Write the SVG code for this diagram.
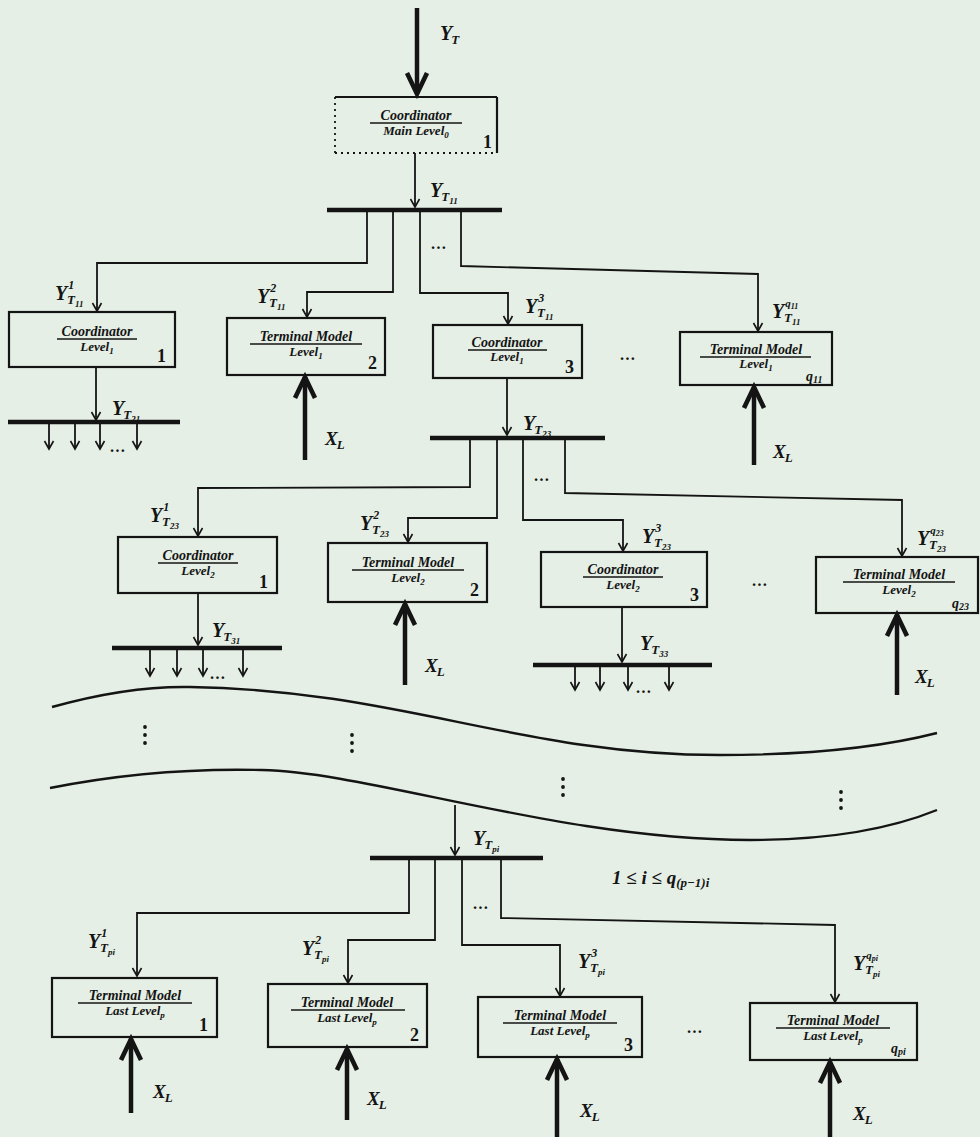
<svg xmlns="http://www.w3.org/2000/svg" width="980" height="1137" viewBox="0 0 980 1137">
<defs>
<style>
.ln{stroke:#141414;stroke-width:1.8;fill:none}
.bus{stroke:#141414;stroke-width:4.5;fill:none}
.box{fill:none;stroke:#141414;stroke-width:2.2}
.thk{stroke:#141414;stroke-width:4.5;fill:none}
.dot{stroke:#141414;stroke-width:1.8;fill:none;stroke-dasharray:2 4}
.t{font-family:"Liberation Serif","Times New Roman",serif;font-style:italic;font-weight:bold;fill:#141414}
.bt{font-size:14px;text-anchor:middle}
.bt2{font-size:13px;text-anchor:middle}
.num{font-family:"Liberation Serif",serif;font-weight:bold;font-size:18px;fill:#141414;text-anchor:end}
.fr{stroke:#141414;stroke-width:1.3}
.wave{stroke:#141414;stroke-width:2.4;fill:none}
</style>
<marker id="a" viewBox="-10 -6 12 12" refX="0" refY="0" markerWidth="12" markerHeight="12" markerUnits="userSpaceOnUse" orient="auto" overflow="visible">
<path d="M-8,-4.5 L0,0 L-8,4.5" fill="none" stroke="#141414" stroke-width="1.6"/>
</marker>
<marker id="A" viewBox="-24 -14 28 28" refX="0" refY="0" markerWidth="28" markerHeight="28" markerUnits="userSpaceOnUse" orient="auto" overflow="visible">
<path d="M-21,-10 L0,0 L-21,10" fill="none" stroke="#141414" stroke-width="4.6" stroke-linejoin="miter"/>
</marker>
</defs>
<rect width="980" height="1137" fill="#e5efe5"/>

<g id="connectors">
<line class="thk" x1="417" y1="8" x2="417" y2="94" marker-end="url(#A)"/>
<line class="ln" x1="415" y1="153" x2="415" y2="207" marker-end="url(#a)"/>
<line class="bus" x1="327" y1="210" x2="502" y2="210"/>
<polyline class="ln" points="367,212 367,263 97,263 97,311" marker-end="url(#a)"/>
<polyline class="ln" points="393,212 393,292 307,292 307,317" marker-end="url(#a)"/>
<polyline class="ln" points="420,212 420,293 508,293 508,324" marker-end="url(#a)"/>
<polyline class="ln" points="461,212 461,266 758,274 758,331" marker-end="url(#a)"/>
<line class="ln" x1="96" y1="367" x2="96" y2="420" marker-end="url(#a)"/>
<line class="bus" x1="8" y1="422" x2="180" y2="422"/>
<line class="ln" x1="49" y1="424" x2="49" y2="449" marker-end="url(#a)"/>
<line class="ln" x1="75" y1="424" x2="75" y2="449" marker-end="url(#a)"/>
<line class="ln" x1="100" y1="424" x2="100" y2="449" marker-end="url(#a)"/>
<line class="ln" x1="137" y1="424" x2="137" y2="449" marker-end="url(#a)"/>
<line class="thk" x1="305" y1="460" x2="305" y2="377" marker-end="url(#A)"/>
<line class="thk" x1="754" y1="465" x2="754" y2="387" marker-end="url(#A)"/>
<line class="ln" x1="507" y1="378" x2="507" y2="435" marker-end="url(#a)"/>
<line class="bus" x1="430" y1="438" x2="605" y2="438"/>
<polyline class="ln" points="470,440 470,487 198,488 198,536" marker-end="url(#a)"/>
<polyline class="ln" points="497,440 497,518 408,518 408,542" marker-end="url(#a)"/>
<polyline class="ln" points="523,440 523,520 623,520 623,551" marker-end="url(#a)"/>
<polyline class="ln" points="565,440 565,493 902,500 902,556" marker-end="url(#a)"/>
<line class="ln" x1="198" y1="593" x2="198" y2="645" marker-end="url(#a)"/>
<line class="bus" x1="112" y1="648" x2="282" y2="648"/>
<line class="ln" x1="150" y1="650" x2="150" y2="676" marker-end="url(#a)"/>
<line class="ln" x1="177" y1="650" x2="177" y2="676" marker-end="url(#a)"/>
<line class="ln" x1="203" y1="650" x2="203" y2="676" marker-end="url(#a)"/>
<line class="ln" x1="243" y1="650" x2="243" y2="676" marker-end="url(#a)"/>
<line class="thk" x1="405" y1="685" x2="405" y2="604" marker-end="url(#A)"/>
<line class="thk" x1="897" y1="695" x2="897" y2="615" marker-end="url(#A)"/>
<line class="ln" x1="622" y1="607" x2="622" y2="662" marker-end="url(#a)"/>
<line class="bus" x1="533" y1="665" x2="712" y2="665"/>
<line class="ln" x1="575" y1="667" x2="575" y2="690" marker-end="url(#a)"/>
<line class="ln" x1="600" y1="667" x2="600" y2="690" marker-end="url(#a)"/>
<line class="ln" x1="628" y1="667" x2="628" y2="690" marker-end="url(#a)"/>
<line class="ln" x1="669" y1="667" x2="669" y2="690" marker-end="url(#a)"/>
<line class="ln" x1="455" y1="805" x2="455" y2="855" marker-end="url(#a)"/>
<line class="bus" x1="370" y1="858" x2="543" y2="858"/>
<polyline class="ln" points="409,860 409,913 137,913 137,976" marker-end="url(#a)"/>
<polyline class="ln" points="435,860 435,940 348,940 348,983" marker-end="url(#a)"/>
<polyline class="ln" points="462,860 462,945 560,945 560,996" marker-end="url(#a)"/>
<polyline class="ln" points="501,860 501,918 835,925 835,1002" marker-end="url(#a)"/>
<line class="thk" x1="131" y1="1113" x2="131" y2="1039" marker-end="url(#A)"/>
<line class="thk" x1="347" y1="1120" x2="347" y2="1049" marker-end="url(#A)"/>
<line class="thk" x1="557" y1="1137" x2="557" y2="1059" marker-end="url(#A)"/>
<line class="thk" x1="830" y1="1137" x2="830" y2="1062" marker-end="url(#A)"/>
</g>

<g id="breaks">
<path class="wave" d="M52,707 C95,695 140,686 190,687 C400,690 520,755 720,755 C820,755 890,745 937,733"/>
<path class="wave" d="M50,788 C110,776 180,768 262,770 C370,772 560,840 750,840 C840,840 900,825 937,810"/>
<g fill="#141414">
<circle cx="145" cy="727" r="1.9"/><circle cx="145" cy="735" r="1.9"/><circle cx="145" cy="743" r="1.9"/>
<circle cx="352" cy="735" r="1.9"/><circle cx="352" cy="743" r="1.9"/><circle cx="352" cy="751" r="1.9"/>
<circle cx="563" cy="779" r="1.9"/><circle cx="563" cy="787" r="1.9"/><circle cx="563" cy="795" r="1.9"/>
<circle cx="841" cy="792" r="1.9"/><circle cx="841" cy="800" r="1.9"/><circle cx="841" cy="808" r="1.9"/>
</g>
</g>

<g id="ellipses" class="t" font-size="16">
<text x="431" y="249">…</text>
<text x="110" y="452">…</text>
<text x="620" y="360">…</text>
<text x="534" y="481">…</text>
<text x="210" y="679">…</text>
<text x="752" y="586">…</text>
<text x="636" y="693">…</text>
<text x="473" y="909">…</text>
<text x="687" y="1033">…</text>
</g>

<g id="main">
<line class="box" x1="335" y1="97" x2="497" y2="97"/>
<line class="box" x1="497" y1="97" x2="497" y2="153"/>
<line class="dot" x1="335" y1="97" x2="335" y2="153"/>
<line class="dot" x1="335" y1="153" x2="497" y2="153"/>
<text class="t bt" x="416" y="120">Coordinator</text>
<line class="fr" x1="370" y1="123" x2="462" y2="123"/>
<text class="t bt2" x="416" y="135">Main Level<tspan font-size="9" dy="3">0</tspan></text>
<text class="num" x="492" y="148">1</text>
</g>

<g id="A1">
<rect class="box" x="9" y="312" width="166" height="55"/>
<text class="t bt" x="97" y="336">Coordinator</text>
<line class="fr" x1="57" y1="339" x2="137" y2="339"/>
<text class="t bt2" x="97" y="351">Level<tspan font-size="9" dy="3">1</tspan></text>
<text class="num" x="166" y="362">1</text>
</g>
<g id="A2">
<rect class="box" x="227" y="318" width="158" height="57"/>
<text class="t bt" x="306" y="341">Terminal Model</text>
<line class="fr" x1="250" y1="344" x2="362" y2="344"/>
<text class="t bt2" x="306" y="356">Level<tspan font-size="9" dy="3">1</tspan></text>
<text class="num" x="377" y="369">2</text>
</g>
<g id="A3">
<rect class="box" x="433" y="325" width="149" height="53"/>
<text class="t bt" x="507" y="347">Coordinator</text>
<line class="fr" x1="468" y1="350" x2="547" y2="350"/>
<text class="t bt2" x="507" y="361">Level<tspan font-size="9" dy="3">1</tspan></text>
<text class="num" x="574" y="373">3</text>
</g>
<g id="A4">
<rect class="box" x="680" y="332" width="152" height="53"/>
<text class="t bt" x="756" y="354">Terminal Model</text>
<line class="fr" x1="700" y1="357" x2="811" y2="357"/>
<text class="t bt2" x="756" y="368">Level<tspan font-size="9" dy="3">1</tspan></text>
<text class="t" font-size="14" x="806" y="381">q<tspan font-size="10" dy="2">11</tspan></text>
</g>

<g id="B1">
<rect class="box" x="118" y="537" width="159" height="56"/>
<text class="t bt" x="198" y="560">Coordinator</text>
<line class="fr" x1="158" y1="563" x2="238" y2="563"/>
<text class="t bt2" x="198" y="575">Level<tspan font-size="9" dy="3">2</tspan></text>
<text class="num" x="268" y="588">1</text>
</g>
<g id="B2">
<rect class="box" x="328" y="543" width="159" height="59"/>
<text class="t bt" x="408" y="567">Terminal Model</text>
<line class="fr" x1="352" y1="570" x2="464" y2="570"/>
<text class="t bt2" x="408" y="582">Level<tspan font-size="9" dy="3">2</tspan></text>
<text class="num" x="479" y="596">2</text>
</g>
<g id="B3">
<rect class="box" x="541" y="552" width="166" height="55"/>
<text class="t bt" x="623" y="574">Coordinator</text>
<line class="fr" x1="583" y1="577" x2="663" y2="577"/>
<text class="t bt2" x="623" y="589">Level<tspan font-size="9" dy="3">2</tspan></text>
<text class="num" x="699" y="601">3</text>
</g>
<g id="B4">
<rect class="box" x="816" y="557" width="162" height="56"/>
<text class="t bt" x="899" y="579">Terminal Model</text>
<line class="fr" x1="843" y1="582" x2="955" y2="582"/>
<text class="t bt2" x="899" y="594">Level<tspan font-size="9" dy="3">2</tspan></text>
<text class="t" font-size="14" x="952" y="608">q<tspan font-size="10" dy="2">23</tspan></text>
</g>

<g id="C1">
<rect class="box" x="52" y="978" width="165" height="59"/>
<text class="t bt" x="135" y="1000">Terminal Model</text>
<line class="fr" x1="78" y1="1003" x2="192" y2="1003"/>
<text class="t bt2" x="135" y="1015">Last Level<tspan font-size="9" dy="3">p</tspan></text>
<text class="num" x="208" y="1031">1</text>
</g>
<g id="C2">
<rect class="box" x="268" y="984" width="159" height="63"/>
<text class="t bt" x="347" y="1007">Terminal Model</text>
<line class="fr" x1="291" y1="1010" x2="405" y2="1010"/>
<text class="t bt2" x="347" y="1022">Last Level<tspan font-size="9" dy="3">p</tspan></text>
<text class="num" x="419" y="1041">2</text>
</g>
<g id="C3">
<rect class="box" x="478" y="997" width="164" height="60"/>
<text class="t bt" x="560" y="1020">Terminal Model</text>
<line class="fr" x1="503" y1="1023" x2="617" y2="1023"/>
<text class="t bt2" x="560" y="1035">Last Level<tspan font-size="9" dy="3">p</tspan></text>
<text class="num" x="633" y="1051">3</text>
</g>
<g id="C4">
<rect class="box" x="750" y="1003" width="167" height="57"/>
<text class="t bt" x="833" y="1025">Terminal Model</text>
<line class="fr" x1="776" y1="1028" x2="890" y2="1028"/>
<text class="t bt2" x="833" y="1040">Last Level<tspan font-size="9" dy="3">p</tspan></text>
<text class="t" font-size="14" x="891" y="1053">q<tspan font-size="10" dy="2">pi</tspan></text>
</g>

<g id="labels" class="t">
<text x="440" y="40" font-size="20">Y<tspan font-size="13" dx="-1" dy="4">T</tspan></text>
<text x="430" y="197" font-size="20">Y<tspan font-size="13" dx="-1" dy="4">T</tspan><tspan font-size="9" dy="3">11</tspan></text>
<text x="55" y="300" font-size="20">Y<tspan font-size="12" dx="1" dy="-11">1</tspan><tspan font-size="13" x="67" dy="15">T</tspan><tspan font-size="9" dy="3">11</tspan></text>
<text x="257" y="303" font-size="20">Y<tspan font-size="12" dx="1" dy="-11">2</tspan><tspan font-size="13" x="269" dy="15">T</tspan><tspan font-size="9" dy="3">11</tspan></text>
<text x="525" y="313" font-size="20">Y<tspan font-size="12" dx="1" dy="-11">3</tspan><tspan font-size="13" x="537" dy="15">T</tspan><tspan font-size="9" dy="3">11</tspan></text>
<text x="772" y="318" font-size="20">Y<tspan font-size="11" dx="1" dy="-11">q</tspan><tspan font-size="8" dy="2">11</tspan><tspan font-size="13" x="784" dy="13">T</tspan><tspan font-size="9" dy="3">11</tspan></text>
<text x="112" y="415" font-size="20">Y<tspan font-size="13" dx="-1" dy="4">T</tspan><tspan font-size="9" dy="3">21</tspan></text>
<text x="523" y="430" font-size="20">Y<tspan font-size="13" dx="-1" dy="4">T</tspan><tspan font-size="9" dy="3">23</tspan></text>
<text x="325" y="445" font-size="19">X<tspan font-size="13" dx="-1" dy="4">L</tspan></text>
<text x="773" y="458" font-size="19">X<tspan font-size="13" dx="-1" dy="4">L</tspan></text>

<text x="150" y="522" font-size="20">Y<tspan font-size="12" dx="1" dy="-11">1</tspan><tspan font-size="13" x="162" dy="15">T</tspan><tspan font-size="9" dy="3">23</tspan></text>
<text x="360" y="530" font-size="20">Y<tspan font-size="12" dx="1" dy="-11">2</tspan><tspan font-size="13" x="372" dy="15">T</tspan><tspan font-size="9" dy="3">23</tspan></text>
<text x="642" y="543" font-size="20">Y<tspan font-size="12" dx="1" dy="-11">3</tspan><tspan font-size="13" x="654" dy="15">T</tspan><tspan font-size="9" dy="3">23</tspan></text>
<text x="917" y="545" font-size="20">Y<tspan font-size="11" dx="1" dy="-11">q</tspan><tspan font-size="8" dy="2">23</tspan><tspan font-size="13" x="929" dy="13">T</tspan><tspan font-size="9" dy="3">23</tspan></text>
<text x="212" y="637" font-size="20">Y<tspan font-size="13" dx="-1" dy="4">T</tspan><tspan font-size="9" dy="3">31</tspan></text>
<text x="640" y="650" font-size="20">Y<tspan font-size="13" dx="-1" dy="4">T</tspan><tspan font-size="9" dy="3">33</tspan></text>
<text x="425" y="672" font-size="19">X<tspan font-size="13" dx="-1" dy="4">L</tspan></text>
<text x="915" y="683" font-size="19">X<tspan font-size="13" dx="-1" dy="4">L</tspan></text>

<text x="473" y="845" font-size="20">Y<tspan font-size="13" dx="-1" dy="4">T</tspan><tspan font-size="9" dy="3">pi</tspan></text>
<text x="612" y="884" font-size="19">1 ≤ i ≤ q<tspan font-size="13" dy="3">(p−1)i</tspan></text>
<text x="88" y="948" font-size="20">Y<tspan font-size="12" dx="1" dy="-11">1</tspan><tspan font-size="13" x="100" dy="15">T</tspan><tspan font-size="9" dy="3">pi</tspan></text>
<text x="302" y="955" font-size="20">Y<tspan font-size="12" dx="1" dy="-11">2</tspan><tspan font-size="13" x="314" dy="15">T</tspan><tspan font-size="9" dy="3">pi</tspan></text>
<text x="578" y="968" font-size="20">Y<tspan font-size="12" dx="1" dy="-11">3</tspan><tspan font-size="13" x="590" dy="15">T</tspan><tspan font-size="9" dy="3">pi</tspan></text>
<text x="853" y="970" font-size="20">Y<tspan font-size="11" dx="1" dy="-11">q</tspan><tspan font-size="8" dy="2">pi</tspan><tspan font-size="13" x="865" dy="13">T</tspan><tspan font-size="9" dy="3">pi</tspan></text>
<text x="153" y="1098" font-size="19">X<tspan font-size="13" dx="-1" dy="4">L</tspan></text>
<text x="367" y="1105" font-size="19">X<tspan font-size="13" dx="-1" dy="4">L</tspan></text>
<text x="580" y="1117" font-size="19">X<tspan font-size="13" dx="-1" dy="4">L</tspan></text>
<text x="853" y="1120" font-size="19">X<tspan font-size="13" dx="-1" dy="4">L</tspan></text>
</g>
</svg>
